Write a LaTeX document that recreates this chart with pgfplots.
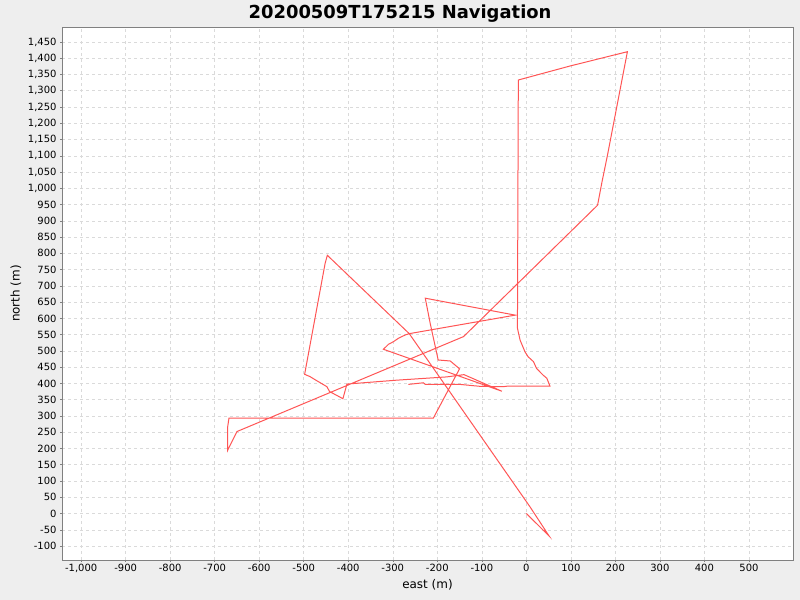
\documentclass[border=0pt]{standalone}
\usepackage{pgfplots}
\pgfplotsset{compat=1.18}
\usepackage{fontspec}
\setmainfont{DejaVu Sans}
\definecolor{bg}{RGB}{238,238,238}
\definecolor{gridc}{RGB}{218,218,218}
\definecolor{linered}{RGB}{255,85,85}
\begin{document}
\begin{tikzpicture}
\useasboundingbox (0,0) rectangle (800bp,600bp);
\fill[bg] (0,0) rectangle (800bp,600bp);
\node[font=\bfseries\fontsize{18}{22}\selectfont] at (400bp,586bp) {20200509T175215 Navigation};
\begin{axis}[
  at={(62bp,40bp)}, anchor=south west,
  scale only axis, width=731bp, height=533bp,
  xmin=-1043, xmax=599, ymin=-143, ymax=1496,
  xtick={-1000,-900,...,500},
  ytick={-100,-50,...,1450},
  xtick pos=bottom, ytick pos=left, tick align=outside,
  major tick length=2bp,
  tick style={gray, line width=0.5bp},
  axis line style={gray, line width=0.5bp},
  grid=major,
  grid style={gridc, line width=0.5bp, dash pattern=on 3bp off 3bp},
  axis background/.style={fill=white},
  /pgf/number format/.cd, fixed, precision=0, 1000 sep={,}, assume math mode=true,
  /pgfplots/.cd,
  tick label style={font=\fontsize{10}{12}\selectfont},
  label style={font=\fontsize{12}{14}\selectfont},
  xlabel={east (m)}, ylabel={north (m)},
  xticklabel style={yshift=1bp},
]
\addplot[color=linered, line width=1bp, mark=none] coordinates {
(0,0)
(51,-69)
(8,21)
(-263,553)
(-447,794)
(-452,769)
(-498,428)
(-486,421)
(-474,411)
(-448,390)
(-442,375)
(-412,353)
(-403,398)
(-291,410)
(-179,420)
(-140,427)
(-55,376)
(-321,505)
(-310,520)
(-299,528)
(-287,539)
(-272,549)
(-263,553)
(-25,610)
(-227,662)
(-216,585)
(-198,472)
(-171,469)
(-150,445)
(-209,293)
(-668,293)
(-671,265)
(-671,194)
(-650,252)
(-141,544)
(160,948)
(170,1020)
(182,1100)
(227,1420)
(98,1376)
(-18,1333)
(-20,570)
(-14,533)
(-3,497)
(4,482)
(16,467)
(23,446)
(38,425)
(46,416)
(53,392)
(-40,392)
(-52,390)
(-104,391)
(-149,397)
(-227,397)
(-231,402)
(-265,397)
};
\end{axis}
\end{tikzpicture}
\end{document}
